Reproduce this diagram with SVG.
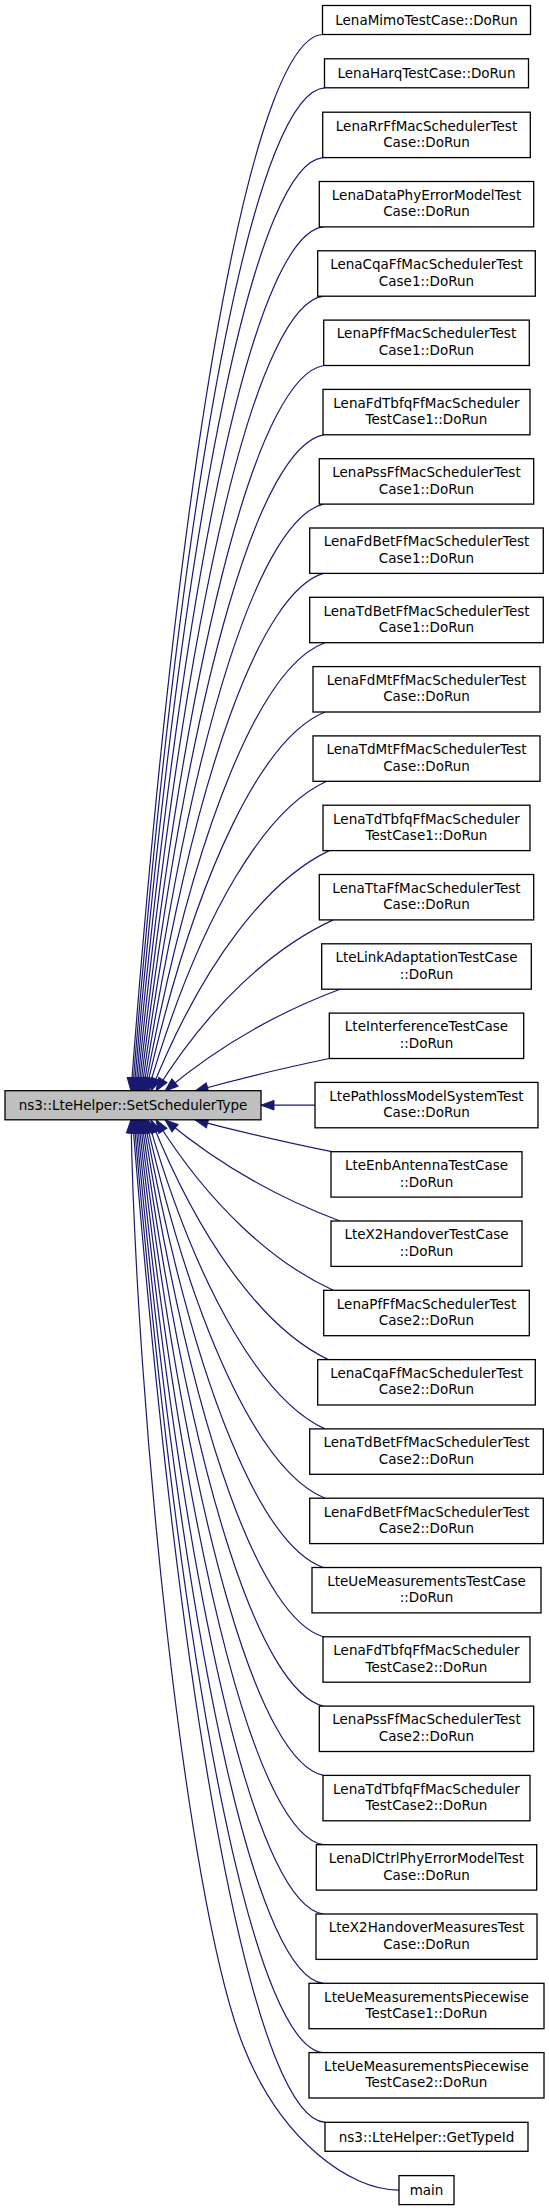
<svg xmlns="http://www.w3.org/2000/svg" width="549" height="2211" viewBox="0 0 549 2211">
<style>
.n rect{fill:#fff;stroke:#000;stroke-width:1.3}
.m rect{fill:#bfbfbf;stroke:#000;stroke-width:1.3}
text{font-family:"DejaVu Sans","Liberation Sans",sans-serif;font-size:13.5px;text-anchor:middle;fill:#000}
#edges path{fill:none;stroke:#191970;stroke-width:1.2;marker-end:url(#arr)}
</style>
<defs>
<marker id="arr" markerUnits="userSpaceOnUse" markerWidth="14" markerHeight="10" refX="13" refY="5" orient="auto" overflow="visible">
<path d="M0,0.2 L13,5 L0,9.8 z" fill="#191970" stroke="#191970" stroke-width="1"/>
</marker>
</defs>
<rect width="549" height="2211" fill="#fff"/>
<g id="edges">
<path d="M322.5,34.5 C258.7,38 184.7,386.7 131,1091"/>
<path d="M324.5,87.8 C260.5,92.1 186.4,423.2 132.5,1091"/>
<path d="M323,157.6 C260,163 187.1,471 134,1091"/>
<path d="M323.3,226.9 C260.7,233.6 188.3,518.9 135.5,1091"/>
<path d="M323.3,296.2 C261.2,304.6 189.5,566.9 137,1091"/>
<path d="M323.7,365.5 C262,375.8 190.8,615.4 138.5,1091"/>
<path d="M323.3,434.8 C262.2,447.4 191.9,664.1 140,1091"/>
<path d="M323.3,504.1 C262.7,519.4 193.1,713.2 141.5,1091"/>
<path d="M323.3,573.4 C263.2,591.5 194.5,762.5 143,1091"/>
<path d="M325,642.7 C264.8,664 196.4,812.2 144.5,1091"/>
<path d="M325,712 C265.3,736.3 197.9,861.7 146,1091"/>
<path d="M326.7,781.3 C267.1,808.1 200.5,910.6 148,1091"/>
<path d="M329.3,850.6 C269.9,878.8 204.2,958.4 151,1091"/>
<path d="M333.3,919.9 C274.2,947 210.1,1003.8 156,1091"/>
<path d="M340,989.2 C281.7,1011 220,1044.8 165,1091"/>
<path d="M329.3,1058.5 C284.5,1067.9 238.8,1078.7 195,1091"/>
<path d="M315,1105.2 L261,1105.2"/>
<path d="M331.7,1151.7 C286.1,1142.4 239.6,1131.8 195,1119.8"/>
<path d="M340,1221 C281.7,1199.3 220,1165.6 165,1119.8"/>
<path d="M333.3,1290.3 C274.2,1263.2 210.1,1206.7 156,1119.8"/>
<path d="M328.3,1359.6 C269.2,1331.4 204,1252 151,1119.8"/>
<path d="M325,1428.9 C266,1402 200,1299.7 148,1119.8"/>
<path d="M325,1498.2 C265.3,1473.9 197.9,1348.7 146,1119.8"/>
<path d="M323.3,1567.5 C263.7,1546.2 195.9,1398.2 144.5,1119.8"/>
<path d="M323.3,1636.8 C263.2,1618.6 194.5,1447.8 143,1119.8"/>
<path d="M323.3,1706.1 C262.7,1690.8 193.1,1497.1 141.5,1119.8"/>
<path d="M323.3,1775.4 C262.2,1762.7 191.9,1546.3 140,1119.8"/>
<path d="M323.3,1844.7 C261.7,1834.4 190.7,1595 138.5,1119.8"/>
<path d="M323.3,1914 C261.2,1905.6 189.5,1643.4 137,1119.8"/>
<path d="M323.3,1983.3 C260.7,1976.5 188.3,1691.5 135.5,1119.8"/>
<path d="M323,2052.6 C260,2047.2 187.1,1739.3 134,1119.8"/>
<path d="M325,2122.3 C260.8,2118 186.5,1787.2 132.5,1119.8"/>
<path d="M399,2190.1 C350,2190.5 280,2140 243,2045 C184.5,1895 136,1400 131,1119.8"/>
</g>
<g id="n0" class="m"><rect x="5" y="1090.7" width="256" height="29.1"/><text x="133" y="1110.2">ns3::LteHelper::SetSchedulerType</text></g>
<g id="n1" class="n"><rect x="322.5" y="5.5" width="208" height="29"/><text x="426.5" y="24.9">LenaMimoTestCase::DoRun</text></g>
<g id="n2" class="n"><rect x="324.5" y="58.8" width="204" height="29"/><text x="426.5" y="78.2">LenaHarqTestCase::DoRun</text></g>
<g id="n3" class="n"><rect x="322.7" y="112.2" width="207.6" height="45.4"/><text x="426.5" y="130.5">LenaRrFfMacSchedulerTest</text><text x="426.5" y="147">Case::DoRun</text></g>
<g id="n4" class="n"><rect x="319.3" y="181.5" width="214.4" height="45.4"/><text x="426.5" y="199.8">LenaDataPhyErrorModelTest</text><text x="426.5" y="216.3">Case::DoRun</text></g>
<g id="n5" class="n"><rect x="317.7" y="250.8" width="217.6" height="45.4"/><text x="426.5" y="269.1">LenaCqaFfMacSchedulerTest</text><text x="426.5" y="285.6">Case1::DoRun</text></g>
<g id="n6" class="n"><rect x="323.7" y="320.1" width="205.6" height="45.4"/><text x="426.5" y="338.4">LenaPfFfMacSchedulerTest</text><text x="426.5" y="354.9">Case1::DoRun</text></g>
<g id="n7" class="n"><rect x="323" y="389.4" width="207" height="45.4"/><text x="426.5" y="407.7">LenaFdTbfqFfMacScheduler</text><text x="426.5" y="424.2">TestCase1::DoRun</text></g>
<g id="n8" class="n"><rect x="319.3" y="458.7" width="214.4" height="45.4"/><text x="426.5" y="477">LenaPssFfMacSchedulerTest</text><text x="426.5" y="493.5">Case1::DoRun</text></g>
<g id="n9" class="n"><rect x="309.7" y="528" width="233.6" height="45.4"/><text x="426.5" y="546.3">LenaFdBetFfMacSchedulerTest</text><text x="426.5" y="562.8">Case1::DoRun</text></g>
<g id="n10" class="n"><rect x="309.7" y="597.3" width="233.6" height="45.4"/><text x="426.5" y="615.6">LenaTdBetFfMacSchedulerTest</text><text x="426.5" y="632.1">Case1::DoRun</text></g>
<g id="n11" class="n"><rect x="313" y="666.6" width="227" height="45.4"/><text x="426.5" y="684.9">LenaFdMtFfMacSchedulerTest</text><text x="426.5" y="701.4">Case::DoRun</text></g>
<g id="n12" class="n"><rect x="313" y="735.9" width="227" height="45.4"/><text x="426.5" y="754.2">LenaTdMtFfMacSchedulerTest</text><text x="426.5" y="770.7">Case::DoRun</text></g>
<g id="n13" class="n"><rect x="323" y="805.2" width="207" height="45.4"/><text x="426.5" y="823.5">LenaTdTbfqFfMacScheduler</text><text x="426.5" y="840">TestCase1::DoRun</text></g>
<g id="n14" class="n"><rect x="319.3" y="874.5" width="214.4" height="45.4"/><text x="426.5" y="892.8">LenaTtaFfMacSchedulerTest</text><text x="426.5" y="909.3">Case::DoRun</text></g>
<g id="n15" class="n"><rect x="321.7" y="943.8" width="209.6" height="45.4"/><text x="426.5" y="962.1">LteLinkAdaptationTestCase</text><text x="426.5" y="978.6">::DoRun</text></g>
<g id="n16" class="n"><rect x="329.3" y="1013.1" width="194.4" height="45.4"/><text x="426.5" y="1031.4">LteInterferenceTestCase</text><text x="426.5" y="1047.9">::DoRun</text></g>
<g id="n17" class="n"><rect x="315" y="1082.4" width="223" height="45.4"/><text x="426.5" y="1100.7">LtePathlossModelSystemTest</text><text x="426.5" y="1117.2">Case::DoRun</text></g>
<g id="n18" class="n"><rect x="331" y="1151.7" width="191" height="45.4"/><text x="426.5" y="1170">LteEnbAntennaTestCase</text><text x="426.5" y="1186.5">::DoRun</text></g>
<g id="n19" class="n"><rect x="331" y="1221" width="191" height="45.4"/><text x="426.5" y="1239.3">LteX2HandoverTestCase</text><text x="426.5" y="1255.8">::DoRun</text></g>
<g id="n20" class="n"><rect x="323.7" y="1290.3" width="205.6" height="45.4"/><text x="426.5" y="1308.6">LenaPfFfMacSchedulerTest</text><text x="426.5" y="1325.1">Case2::DoRun</text></g>
<g id="n21" class="n"><rect x="317.7" y="1359.6" width="217.6" height="45.4"/><text x="426.5" y="1377.9">LenaCqaFfMacSchedulerTest</text><text x="426.5" y="1394.4">Case2::DoRun</text></g>
<g id="n22" class="n"><rect x="309.7" y="1428.9" width="233.6" height="45.4"/><text x="426.5" y="1447.2">LenaTdBetFfMacSchedulerTest</text><text x="426.5" y="1463.7">Case2::DoRun</text></g>
<g id="n23" class="n"><rect x="309.7" y="1498.2" width="233.6" height="45.4"/><text x="426.5" y="1516.5">LenaFdBetFfMacSchedulerTest</text><text x="426.5" y="1533">Case2::DoRun</text></g>
<g id="n24" class="n"><rect x="312" y="1567.5" width="229" height="45.4"/><text x="426.5" y="1585.8">LteUeMeasurementsTestCase</text><text x="426.5" y="1602.3">::DoRun</text></g>
<g id="n25" class="n"><rect x="323" y="1636.8" width="207" height="45.4"/><text x="426.5" y="1655.1">LenaFdTbfqFfMacScheduler</text><text x="426.5" y="1671.6">TestCase2::DoRun</text></g>
<g id="n26" class="n"><rect x="319.3" y="1706.1" width="214.4" height="45.4"/><text x="426.5" y="1724.4">LenaPssFfMacSchedulerTest</text><text x="426.5" y="1740.9">Case2::DoRun</text></g>
<g id="n27" class="n"><rect x="323" y="1775.4" width="207" height="45.4"/><text x="426.5" y="1793.7">LenaTdTbfqFfMacScheduler</text><text x="426.5" y="1810.2">TestCase2::DoRun</text></g>
<g id="n28" class="n"><rect x="316.3" y="1844.7" width="220.4" height="45.4"/><text x="426.5" y="1863">LenaDlCtrlPhyErrorModelTest</text><text x="426.5" y="1879.5">Case::DoRun</text></g>
<g id="n29" class="n"><rect x="316" y="1914" width="221" height="45.4"/><text x="426.5" y="1932.3">LteX2HandoverMeasuresTest</text><text x="426.5" y="1948.8">Case::DoRun</text></g>
<g id="n30" class="n"><rect x="309" y="1983.3" width="235" height="45.4"/><text x="426.5" y="2001.6">LteUeMeasurementsPiecewise</text><text x="426.5" y="2018.1">TestCase1::DoRun</text></g>
<g id="n31" class="n"><rect x="309" y="2052.6" width="235" height="45.4"/><text x="426.5" y="2070.9">LteUeMeasurementsPiecewise</text><text x="426.5" y="2087.4">TestCase2::DoRun</text></g>
<g id="n32" class="n"><rect x="325" y="2122.3" width="203" height="29"/><text x="426.5" y="2141.7">ns3::LteHelper::GetTypeId</text></g>
<g id="n33" class="n"><rect x="399" y="2175.6" width="55" height="29"/><text x="426.5" y="2195">main</text></g>
</svg>
